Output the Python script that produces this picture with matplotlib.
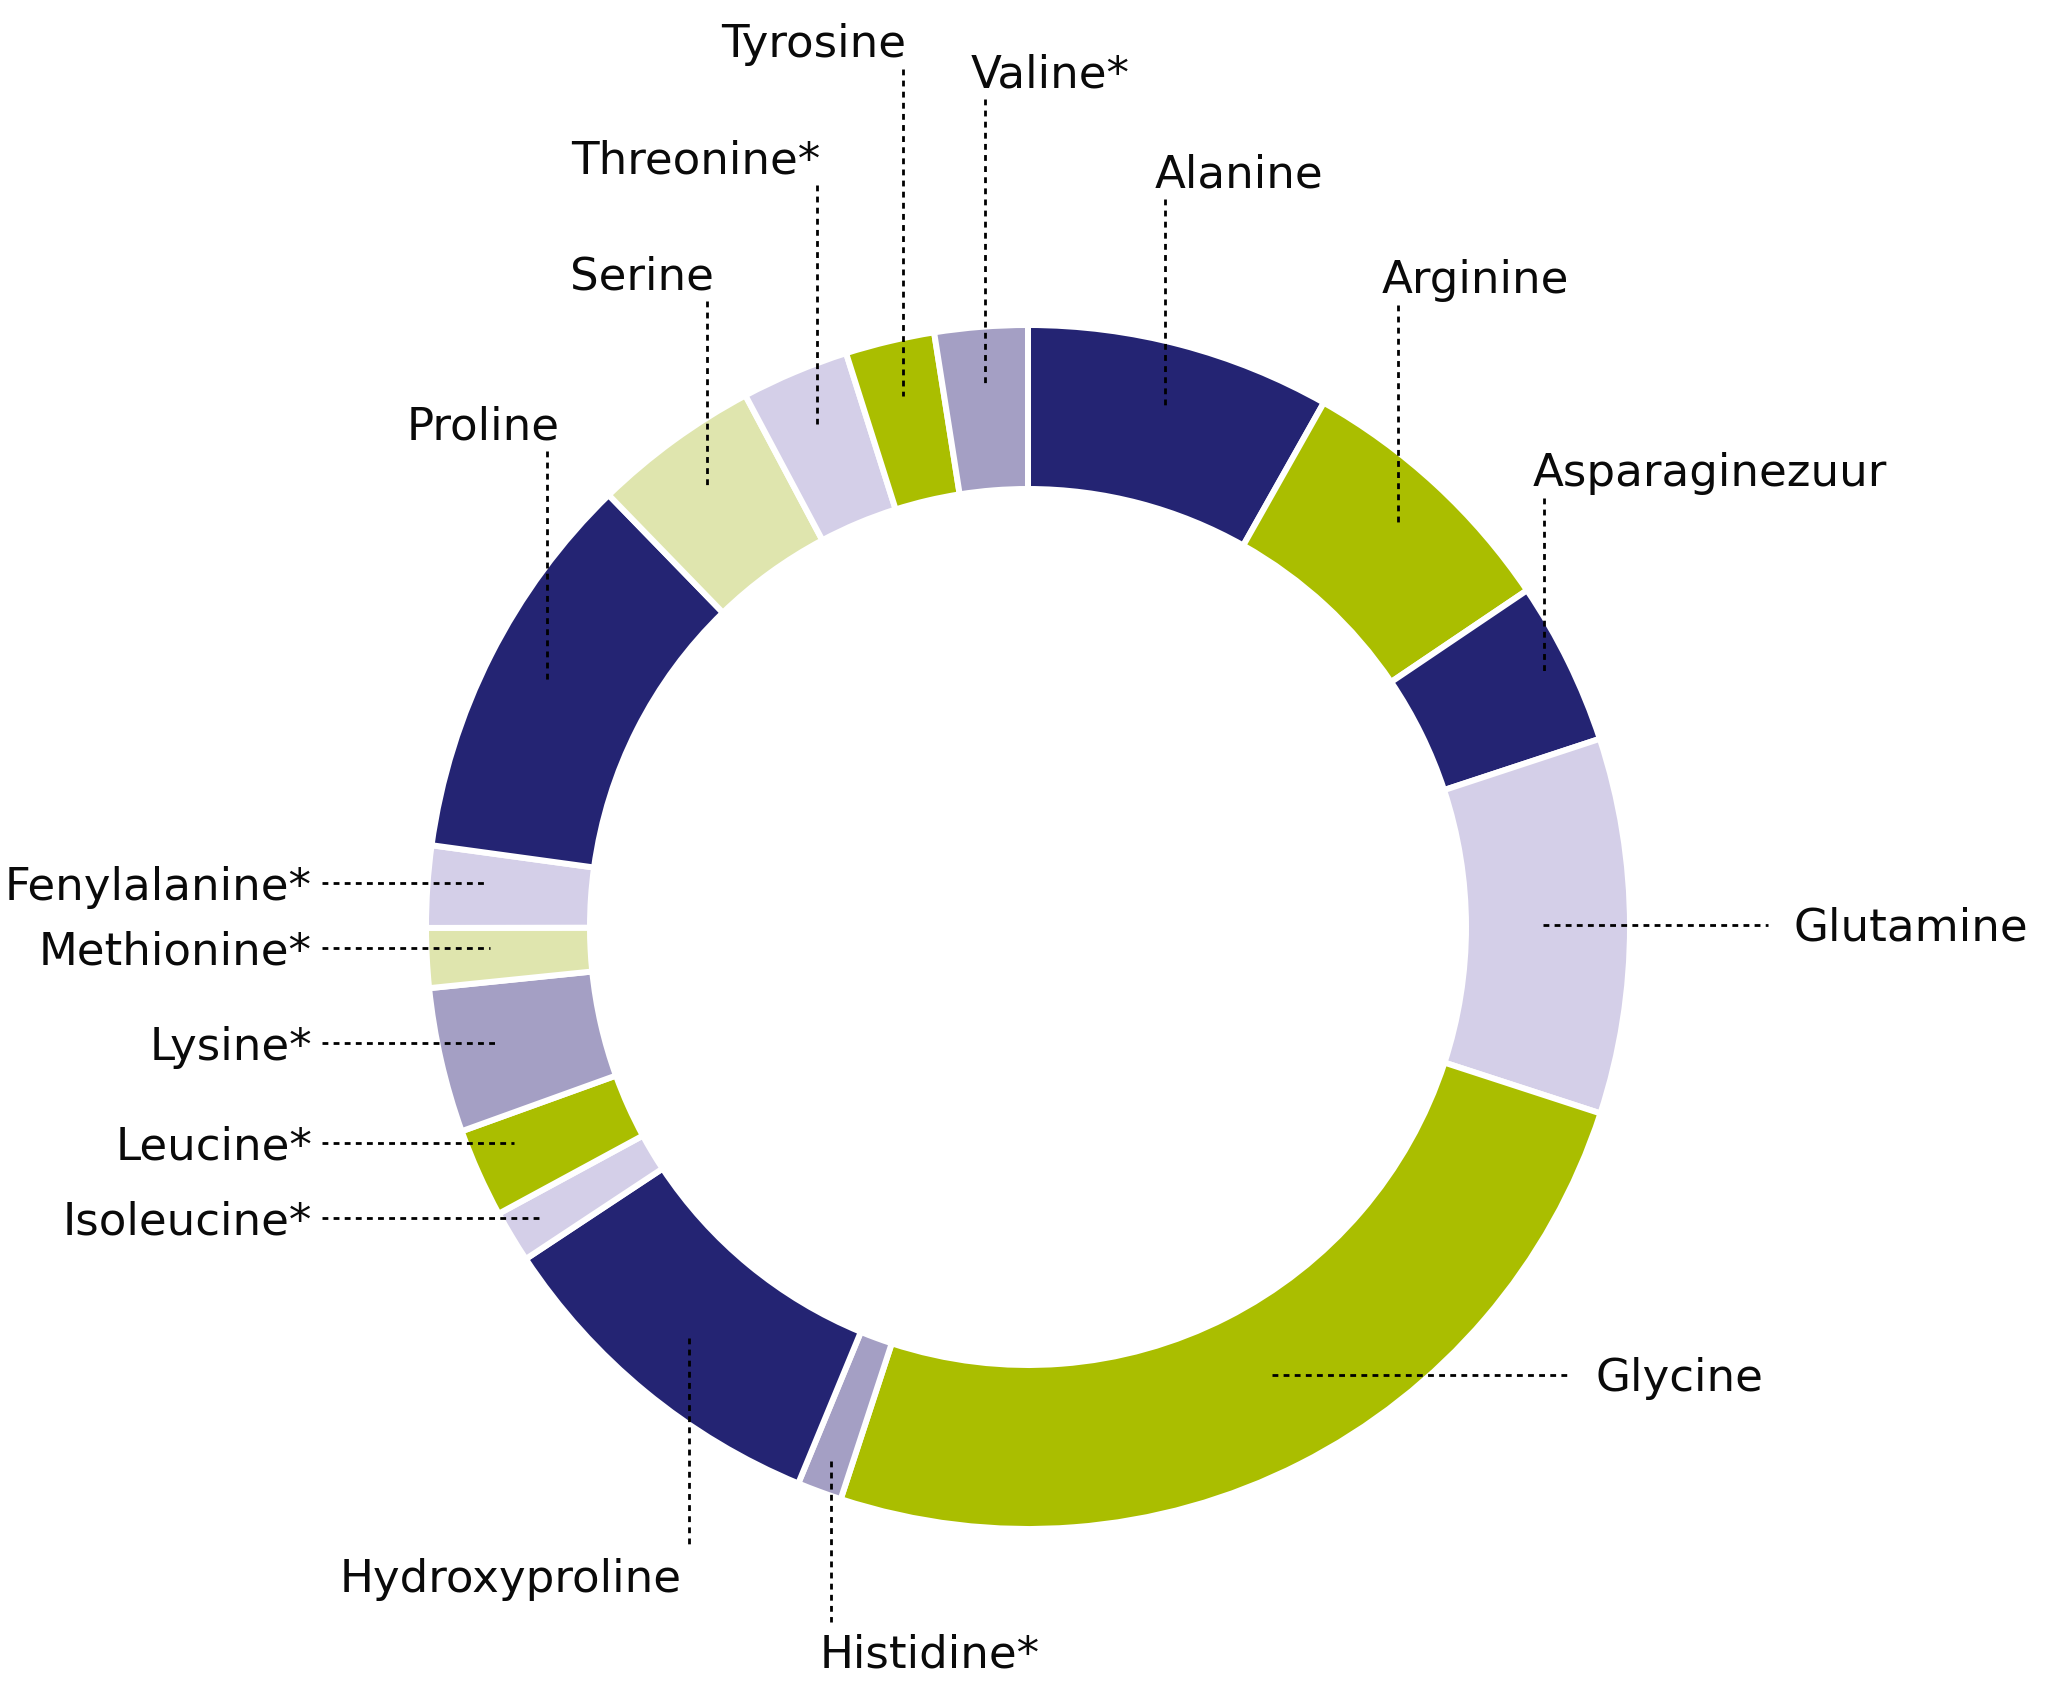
import numpy as np
import matplotlib
matplotlib.use("Agg")
import matplotlib.pyplot as plt

# ---- data (clockwise from 12 o'clock) ----
labels = ["Alanine", "Arginine", "Asparaginezuur", "Glutamine", "Glycine",
          "Histidine*", "Hydroxyproline", "Isoleucine*", "Leucine*", "Lysine*",
          "Methionine*", "Fenylalanine*", "Proline", "Serine", "Threonine*",
          "Tyrosine", "Valine*"]
values = [8.2, 7.4, 4.4, 10.1, 25.1,
          1.2, 9.5, 1.4, 2.4, 3.9,
          1.6, 2.2, 10.6, 4.5, 2.9,
          2.4, 2.5]

NAVY = "#242473"
LIME = "#AABE00"
LAV_L = "#D4CFE8"
LAV_M = "#A49FC4"
LIME_L = "#DFE5AE"
colors = [NAVY, LIME, NAVY, LAV_L, LIME,
          LAV_M, NAVY, LAV_L, LIME, LAV_M,
          LIME_L, LAV_L, NAVY, LIME_L, LAV_L,
          LIME, LAV_M]

# ---- layout (pixel positions of label text) ----
W, H = 2047, 1700
CX, CY, RPX = 1028, 927, 599.0


def X(px):
    return (px - CX) / RPX


def Y(py):
    return (CY - py) / RPX


# side, x (px), y (px), leader anchor radius (fraction of outer radius)
# top/bottom -> x=left edge, y=baseline ; left -> x=right edge, y=leader y ;
# right -> x=left edge, y=leader y
label_layout = {
    "Tyrosine": ("top", 721, 57, 0.91),
    "Valine*": ("top", 971, 87, 0.91),
    "Threonine*": ("top", 571, 173, 0.91),
    "Alanine": ("top", 1155, 187, 0.90),
    "Serine": ("top", 570, 289, 0.91),
    "Arginine": ("top", 1382, 293, 0.91),
    "Proline": ("top", 407, 439, 0.90),
    "Asparaginezuur": ("top", 1533, 486, 0.96),
    "Glutamine": ("right", 1794, 925, 0.86),
    "Glycine": ("right", 1596, 1375, 0.90),
    "Hydroxyproline": ("bottom", 340, 1592, 0.89),
    "Histidine*": ("bottom", 820, 1667, 0.95),
    "Fenylalanine*": ("left", 312, 883, 0.91),
    "Methionine*": ("left", 312, 948, 0.90),
    "Lysine*": ("left", 312, 1043, 0.91),
    "Leucine*": ("left", 312, 1143, 0.94),
    "Isoleucine*": ("left", 312, 1218, 0.95),
}

FS = 32.5
CAP = 33  # cap height in px

fig = plt.figure(figsize=(W / 100, H / 100), dpi=100)
ax = fig.add_axes([0, 0, 1, 1])

edge_px = 6
ax.pie(values, colors=colors, startangle=90, counterclock=False,
       radius=1 + (edge_px / 2) / RPX,
       wedgeprops=dict(width=(599 - 441 + edge_px) / RPX, edgecolor="white",
                       linewidth=edge_px / 100 * 72))

ax.set_aspect("auto")
ax.set_xlim(X(0), X(W))
ax.set_ylim(Y(H), Y(0))
ax.axis("off")

# mid angles (clockwise from north)
vals = np.array(values, dtype=float)
cum = np.cumsum(vals) / vals.sum() * 360.0
mids = cum - vals / vals.sum() * 360.0 / 2

line_kw = dict(color="black", linewidth=2.0, linestyle=(0, (2.1, 1.9)),
               dash_capstyle="butt")
text_kw = dict(fontsize=FS, family="DejaVu Sans", color="#0a0a0a")

for name, mid in zip(labels, mids):
    side, px, py, ar = label_layout[name]
    th = np.deg2rad(mid)
    axp = ar * np.sin(th)
    ayp = ar * np.cos(th)
    if side == "top":
        ax.text(X(px), Y(py), name, ha="left", va="baseline", **text_kw)
        ax.plot([axp, axp], [Y(py + 12), ayp], **line_kw)
    elif side == "bottom":
        ax.text(X(px), Y(py), name, ha="left", va="baseline", **text_kw)
        ax.plot([axp, axp], [ayp, Y(py - CAP - 12)], **line_kw)
    elif side == "left":
        ax.text(X(px), Y(py + CAP / 2), name, ha="right", va="baseline", **text_kw)
        ax.plot([X(px + 10), axp], [Y(py), Y(py)], **line_kw)
    else:
        ax.text(X(px), Y(py + CAP / 2 - 1), name, ha="left", va="baseline", **text_kw)
        ax.plot([axp, X(px - 26)], [Y(py), Y(py)], **line_kw)

fig.savefig("out.png", dpi=100, facecolor="white")
